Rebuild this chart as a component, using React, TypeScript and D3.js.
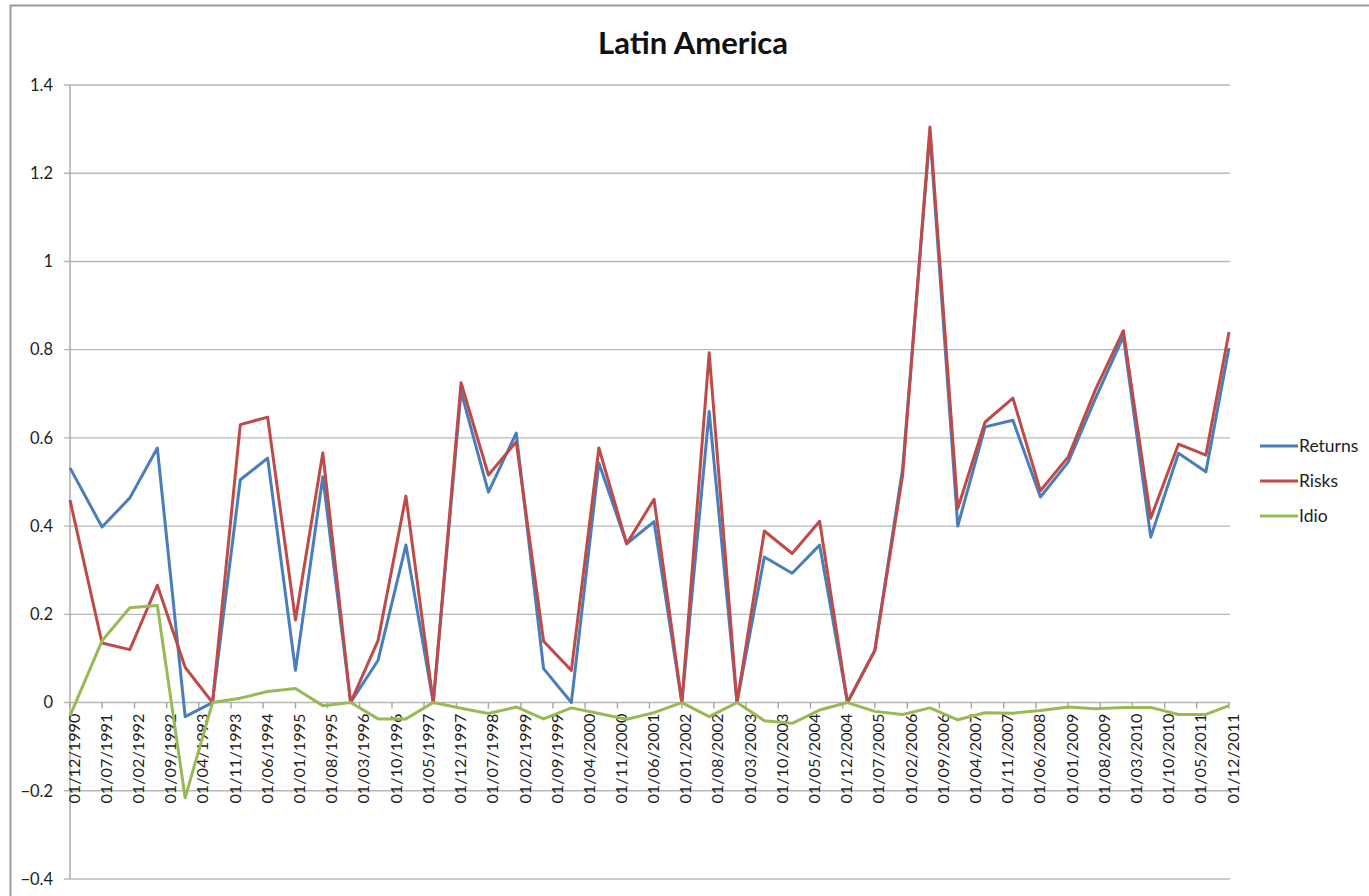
import React from "react";
import * as d3 from "d3";

const title = "Latin America";

const pointDates = [
  "01/12/1990", "01/07/1991", "01/01/1992", "01/07/1992", "01/01/1993", "01/07/1993",
  "01/01/1994", "01/07/1994", "01/01/1995", "01/07/1995", "01/01/1996", "01/07/1996",
  "01/01/1997", "01/07/1997", "01/01/1998", "01/07/1998", "01/01/1999", "01/07/1999",
  "01/01/2000", "01/07/2000", "01/01/2001", "01/07/2001", "01/01/2002", "01/07/2002",
  "01/01/2003", "01/07/2003", "01/01/2004", "01/07/2004", "01/01/2005", "01/07/2005",
  "01/01/2006", "01/07/2006", "01/01/2007", "01/07/2007", "01/01/2008", "01/07/2008",
  "01/01/2009", "01/07/2009", "01/01/2010", "01/07/2010", "01/01/2011", "01/07/2011",
  "01/12/2011",
];

const returns = [
  0.532, 0.398, 0.464, 0.577, -0.032, 0.0, 0.505, 0.554, 0.073, 0.512, 0.0, 0.096,
  0.357, 0.0, 0.705, 0.477, 0.611, 0.077, 0.0, 0.543, 0.36, 0.41, 0.0, 0.66,
  0.0, 0.33, 0.293, 0.357, 0.0, 0.118, 0.53, 1.29, 0.4, 0.625, 0.64, 0.466,
  0.545, 0.69, 0.83, 0.375, 0.565, 0.523, 0.804,
];

const risks = [
  0.459, 0.135, 0.12, 0.266, 0.08, 0.0, 0.63, 0.647, 0.187, 0.566, 0.0, 0.141,
  0.468, 0.0, 0.725, 0.516, 0.591, 0.139, 0.073, 0.577, 0.36, 0.461, 0.0, 0.793,
  0.0, 0.389, 0.338, 0.411, 0.0, 0.118, 0.515, 1.305, 0.44, 0.636, 0.69, 0.48,
  0.557, 0.71, 0.843, 0.418, 0.586, 0.561, 0.84,
];

const idio = [
  -0.03, 0.14, 0.215, 0.22, -0.216, 0.0, 0.01, 0.025, 0.032, -0.007, 0.0, -0.037,
  -0.037, 0.0, -0.013, -0.025, -0.01, -0.037, -0.012, -0.025, -0.038, -0.023, 0.0, -0.032,
  0.0, -0.041, -0.047, -0.017, 0.0, -0.02, -0.027, -0.012, -0.039, -0.023, -0.024, -0.018,
  -0.01, -0.014, -0.011, -0.011, -0.027, -0.027, -0.007,
];

const tickLabels = [
  "01/12/1990", "01/07/1991", "01/02/1992", "01/09/1992", "01/04/1993", "01/11/1993",
  "01/06/1994", "01/01/1995", "01/08/1995", "01/03/1996", "01/10/1996", "01/05/1997",
  "01/12/1997", "01/07/1998", "01/02/1999", "01/09/1999", "01/04/2000", "01/11/2000",
  "01/06/2001", "01/01/2002", "01/08/2002", "01/03/2003", "01/10/2003", "01/05/2004",
  "01/12/2004", "01/07/2005", "01/02/2006", "01/09/2006", "01/04/2007", "01/11/2007",
  "01/06/2008", "01/01/2009", "01/08/2009", "01/03/2010", "01/10/2010", "01/05/2011",
  "01/12/2011",
];

const yTicks = [-0.4, -0.2, 0, 0.2, 0.4, 0.6, 0.8, 1, 1.2, 1.4];

const seriesNames = ["Returns", "Risks", "Idio"];
const seriesColors = ["#4a7ebb", "#be4b48", "#98b954"];

const FONT = "Lato, 'Open Sans', sans-serif";

export default function App() {
  const parse = d3.timeParse("%d/%m/%Y");
  const dates = pointDates.map((d) => parse(d) as Date);
  const tickDates = tickLabels.map((d) => parse(d) as Date);

  const x = d3
    .scaleTime()
    .domain([tickDates[0], tickDates[tickDates.length - 1]])
    .range([70, 1229]);
  const y = d3.scaleLinear().domain([-0.4, 1.4]).range([879, 85]);

  const seriesData = [returns, risks, idio];
  const line = d3
    .line<number>()
    .x((_, i) => x(dates[i]))
    .y((v) => y(v));

  return (
    <svg
      width={1369}
      height={896}
      style={{ position: "absolute", left: 0, top: 0, background: "#fff" }}
    >
      <rect x={0} y={0} width={1369} height={896} fill="#fff" />
      <rect
        x={10.5}
        y={5.5}
        width={1500}
        height={1000}
        fill="#fff"
        stroke="#9a9a9a"
        strokeWidth={2}
      />
      <text
        x={693}
        y={54}
        textAnchor="middle"
        fontFamily={FONT}
        fontWeight="bold"
        fontSize={30}
        fill="#111"
        textLength={190}
        lengthAdjust="spacingAndGlyphs"
      >
        {title}
      </text>

      {/* gridlines */}
      {yTicks.map((t) => (
        <line
          key={"g" + t}
          x1={64}
          x2={1230}
          y1={y(t)}
          y2={y(t)}
          stroke="#b8b8b8"
          strokeWidth={1.4}
        />
      ))}
      {/* y axis */}
      <line x1={70} x2={70} y1={y(1.4)} y2={y(-0.4)} stroke="#a6a6a6" strokeWidth={1.4} />
      {yTicks.map((t) => (
        <text
          key={"yl" + t}
          x={53}
          y={y(t)}
          dy="0.35em"
          textAnchor="end"
          fontFamily={FONT}
          fontSize={16.5}
          fill="#1e1e1e"
        >
          {d3.format("")(+t.toFixed(1))}
        </text>
      ))}
      {/* x axis ticks */}
      {tickDates.map((d, i) => (
        <line
          key={"xt" + i}
          x1={x(d)}
          x2={x(d)}
          y1={y(0)}
          y2={y(0) + 6}
          stroke="#a6a6a6"
          strokeWidth={1.4}
        />
      ))}
      {tickDates.map((d, i) => (
        <text
          key={"xl" + i}
          transform={`translate(${x(d) + 4},${y(0) + 11}) rotate(-90)`}
          textAnchor="end"
          dy="0.35em"
          fontFamily={FONT}
          fontSize={16}
          fill="#1e1e1e"
          textLength={90}
          lengthAdjust="spacingAndGlyphs"
        >
          {tickLabels[i]}
        </text>
      ))}

      {/* series */}
      {seriesData.map((s, k) => (
        <path
          key={"s" + k}
          d={line(s) || ""}
          fill="none"
          stroke={seriesColors[k]}
          strokeWidth={3}
          strokeLinejoin="round"
        />
      ))}

      {/* legend */}
      {seriesNames.map((n, k) => (
        <g key={"lg" + n} transform={`translate(0, ${446 + k * 35})`}>
          <line x1={1260} x2={1298} y1={0} y2={0} stroke={seriesColors[k]} strokeWidth={3} />
          <text x={1299} y={0} dy="0.35em" fontFamily={FONT} fontSize={17.5} fill="#1e1e1e">
            {n}
          </text>
        </g>
      ))}
    </svg>
  );
}
